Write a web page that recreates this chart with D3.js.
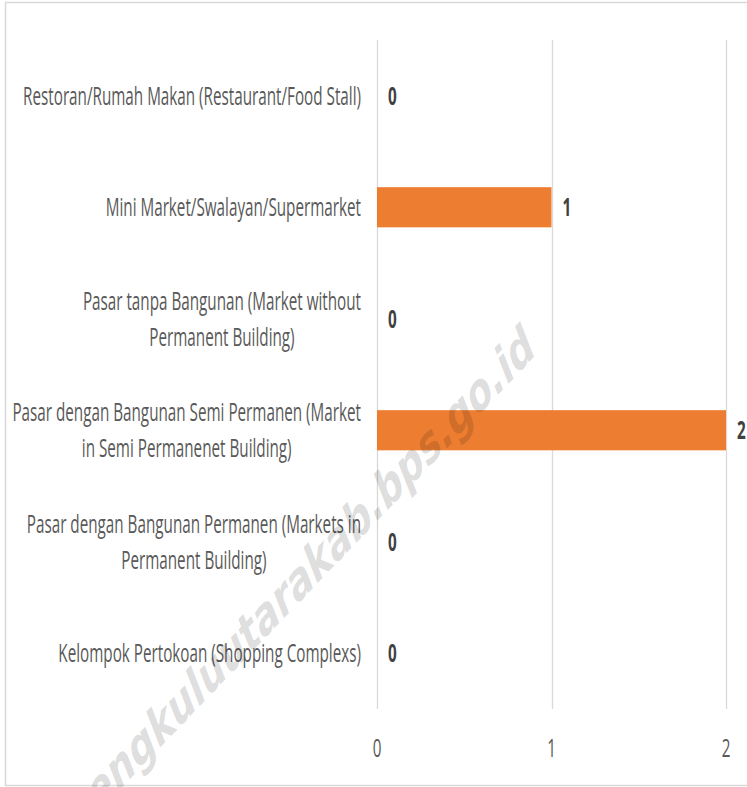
<!DOCTYPE html>
<html>
<head>
<meta charset="utf-8">
<script src="https://cdn.jsdelivr.net/npm/d3@7"></script>
<style>
  body { margin: 0; background: #fff; }
  svg { display: block; }
</style>
</head>
<body>
<div id="chart"></div>
<script>
// categories top to bottom, "\n" marks the label line breaks
var categories = [
  "Restoran/Rumah Makan (Restaurant/Food Stall)",
  "Mini Market/Swalayan/Supermarket",
  "Pasar tanpa Bangunan (Market without\nPermanent Building)",
  "Pasar dengan Bangunan Semi Permanen (Market\nin Semi Permanenet Building)",
  "Pasar dengan Bangunan Permanen (Markets in\nPermanent Building)",
  "Kelompok Pertokoan (Shopping Complexs)"
];
var values = [0, 1, 0, 2, 0, 0];
var xTicks = [0, 1, 2];
var watermark = "bengkuluutarakab.bps.go.id";

var width = 747, height = 787;
var squeeze = 0.61; // the original picture is squashed horizontally
var font = "'Open Sans', 'Noto Sans', sans-serif";

var svg = d3.select("#chart").append("svg")
  .attr("width", width)
  .attr("height", height);

// outer frame
svg.append("rect")
  .attr("x", 5.5).attr("y", 2.5)
  .attr("width", 780).attr("height", 783)
  .attr("fill", "#fff")
  .attr("stroke", "#d9d9d9")
  .attr("stroke-width", 1.5);

var x = d3.scaleLinear().domain([0, 2]).range([377, 726]);
var y = d3.scaleBand().domain(categories).range([40, 709]).padding(0);

/* gridlines */
svg.append("g").selectAll("line")
  .data(xTicks)
  .enter().append("line")
  .attr("x1", function(d) { return Math.round(x(d)) + 0.5; })
  .attr("x2", function(d) { return Math.round(x(d)) + 0.5; })
  .attr("y1", y.range()[0])
  .attr("y2", y.range()[1])
  .attr("stroke", "#d9d9d9")
  .attr("stroke-width", 1.3);

/* bars */
var barH = y.bandwidth() * 0.36;
svg.append("g").selectAll("rect")
  .data(values)
  .enter().append("rect")
  .attr("x", x(0))
  .attr("y", function(d, i) { return y(categories[i]) + (y.bandwidth() - barH) / 2; })
  .attr("width", function(d) { return x(d) - x(0); })
  .attr("height", barH)
  .attr("fill", "#ed7d31");

// squeezed text helper
function sText(g, px, py, str, opts) {
  var t = g.append("g")
    .attr("transform", "translate(" + px + "," + py + ") scale(" + squeeze + ",1)")
    .append("text")
    .attr("dy", "0.36em")
    .attr("text-anchor", opts.anchor || "start")
    .attr("fill", opts.fill)
    .attr("font-weight", opts.weight || "normal")
    .style("font-family", font)
    .style("font-size", opts.size + "px")
    .text(str);
  return t;
}

/* value labels */
var valG = svg.append("g");
values.forEach(function(d, i) {
  sText(valG, x(d) + 11, y(categories[i]) + y.bandwidth() / 2, d,
    { fill: "#404040", weight: "bold", size: 25 });
});

/* x axis tick labels */
var tickG = svg.append("g");
xTicks.forEach(function(d) {
  sText(tickG, x(d), 748, d, { fill: "#595959", size: 25, anchor: "middle" });
});

/* category labels, wrapped lines centred on each other, block right aligned */
var lineH = 36;
var catG = svg.append("g");
categories.forEach(function(c, i) {
  var lines = c.split("\n");
  var cy = y(c) + y.bandwidth() / 2;
  var nodes = lines.map(function(l, j) {
    return sText(catG, 0, cy, l, { fill: "#595959", size: 25, anchor: "middle" });
  });
  var w = d3.max(nodes, function(n) { return n.node().getComputedTextLength(); }) * squeeze;
  var cx = x(0) - 16 - w / 2;
  nodes.forEach(function(n, j) {
    d3.select(n.node().parentNode)
      .attr("transform", "translate(" + cx + "," + (cy + (j - (lines.length - 1) / 2) * lineH) + ") scale(" + squeeze + ",1)");
  });
});

/* watermark, squashed like the rest of the picture */
svg.append("text")
  .attr("transform", "translate(530,338) scale(" + squeeze + ",1) rotate(-32.5)")
  .attr("text-anchor", "end")
  .attr("dy", "0.35em")
  .attr("fill", "#000")
  .attr("fill-opacity", 0.14)
  .attr("font-weight", "bold")
  .style("font-family", "'DejaVu Sans', sans-serif")
  .style("font-size", "56px")
  .text(watermark);
</script>
</body>
</html>
